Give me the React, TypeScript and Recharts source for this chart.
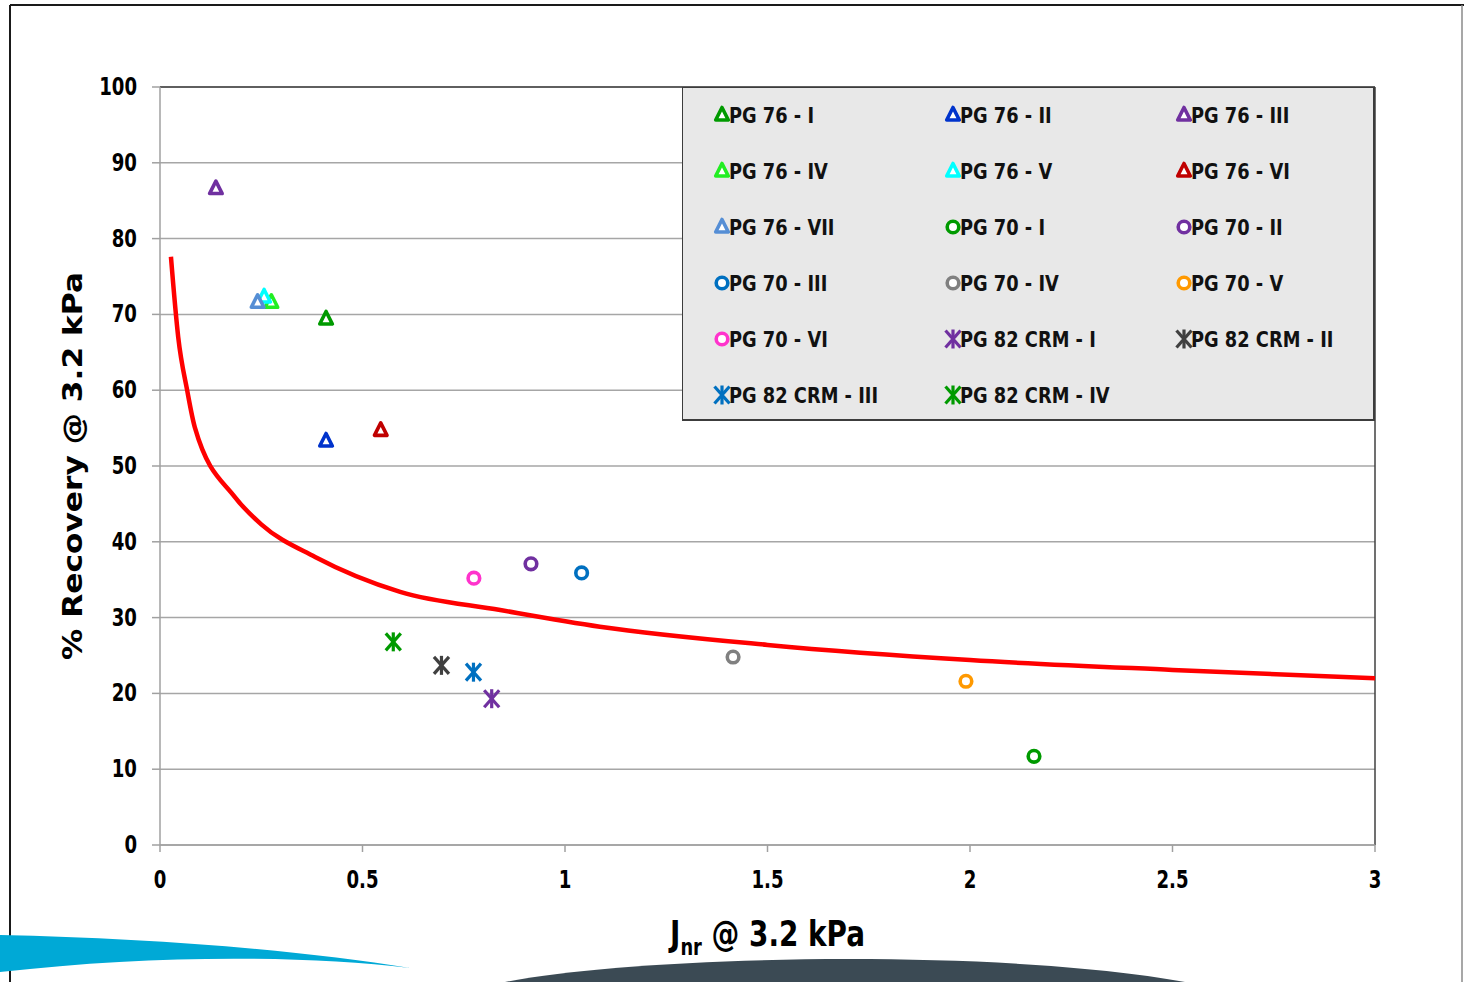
import React from 'react';
import {
  ComposedChart,
  Scatter,
  Line,
  XAxis,
  YAxis,
  CartesianGrid,
  Legend,
  ReferenceLine,
} from 'recharts';

// ---- data: Jnr @ 3.2 kPa (x) vs % Recovery @ 3.2 kPa (y) ----
const pg76I = [{ x: 0.41, y: 69.4 }];
const pg76II = [{ x: 0.41, y: 53.3 }];
const pg76III = [{ x: 0.138, y: 86.6 }];
const pg76IV = [{ x: 0.275, y: 71.6 }];
const pg76V = [{ x: 0.257, y: 72.3 }];
const pg76VI = [{ x: 0.545, y: 54.7 }];
const pg76VII = [{ x: 0.241, y: 71.6 }];
const pg70I = [{ x: 2.158, y: 11.7 }];
const pg70II = [{ x: 0.916, y: 37.1 }];
const pg70III = [{ x: 1.041, y: 35.9 }];
const pg70IV = [{ x: 1.415, y: 24.8 }];
const pg70V = [{ x: 1.99, y: 21.6 }];
const pg70VI = [{ x: 0.775, y: 35.2 }];
const pg82I = [{ x: 0.819, y: 19.3 }];
const pg82II = [{ x: 0.695, y: 23.7 }];
const pg82III = [{ x: 0.774, y: 22.8 }];
const pg82IV = [{ x: 0.576, y: 26.8 }];

// boundary curve (red)
const boundary = [
  { x: 0.027, y: 77.6 },
  { x: 0.045, y: 67.0 },
  { x: 0.067, y: 60.0 },
  { x: 0.086, y: 55.1 },
  { x: 0.185, y: 45.9 },
  { x: 0.25, y: 42.3 },
  { x: 0.383, y: 38.0 },
  { x: 0.593, y: 33.4 },
  { x: 0.84, y: 31.0 },
  { x: 1.086, y: 28.8 },
  { x: 1.5, y: 26.4 },
  { x: 2.0, y: 24.4 },
  { x: 2.5, y: 23.1 },
  { x: 3.0, y: 22.0 },
];

const xTicks = [0, 0.5, 1, 1.5, 2, 2.5, 3];
const yTicks = [0, 10, 20, 30, 40, 50, 60, 70, 80, 90, 100];

type Kind = 'tri' | 'ring' | 'star';

const series: { name: string; kind: Kind; color: string; data: { x: number; y: number }[] }[] = [
  { name: 'PG 76 - I', kind: 'tri', color: '#009a00', data: pg76I },
  { name: 'PG 76 - II', kind: 'tri', color: '#0033cc', data: pg76II },
  { name: 'PG 76 - III', kind: 'tri', color: '#7030a0', data: pg76III },
  { name: 'PG 76 - IV', kind: 'tri', color: '#22ee22', data: pg76IV },
  { name: 'PG 76 - V', kind: 'tri', color: '#00ffff', data: pg76V },
  { name: 'PG 76 - VI', kind: 'tri', color: '#c00000', data: pg76VI },
  { name: 'PG 76 - VII', kind: 'tri', color: '#558ed5', data: pg76VII },
  { name: 'PG 70 - I', kind: 'ring', color: '#009a00', data: pg70I },
  { name: 'PG 70 - II', kind: 'ring', color: '#7030a0', data: pg70II },
  { name: 'PG 70 - III', kind: 'ring', color: '#0070c0', data: pg70III },
  { name: 'PG 70 - IV', kind: 'ring', color: '#808080', data: pg70IV },
  { name: 'PG 70 - V', kind: 'ring', color: '#ff9900', data: pg70V },
  { name: 'PG 70 - VI', kind: 'ring', color: '#ff33cc', data: pg70VI },
  { name: 'PG 82 CRM - I', kind: 'star', color: '#7030a0', data: pg82I },
  { name: 'PG 82 CRM - II', kind: 'star', color: '#404040', data: pg82II },
  { name: 'PG 82 CRM - III', kind: 'star', color: '#0070c0', data: pg82III },
  { name: 'PG 82 CRM - IV', kind: 'star', color: '#009a00', data: pg82IV },
];

const NARROW = '"Liberation Sans Narrow", "DejaVu Sans Condensed", "Arial Narrow", sans-serif';
const WIDE = '"DejaVu Sans", Verdana, sans-serif';

function Marker({ kind, color, cx, cy }: { kind: Kind; color: string; cx: number; cy: number }) {
  if (kind === 'tri') {
    return (
      <path
        d={`M${cx},${cy - 7.5} L${cx + 6.3},${cy + 5} L${cx - 6.3},${cy + 5} Z`}
        fill="#ffffff"
        stroke={color}
        strokeWidth={3.6}
        strokeLinejoin="round"
      />
    );
  }
  if (kind === 'ring') {
    return <circle cx={cx} cy={cy} r={5.8} fill="#ffffff" stroke={color} strokeWidth={3.6} />;
  }
  return (
    <g stroke={color} strokeWidth={3.2} strokeLinecap="butt">
      <line x1={cx} y1={cy - 9.5} x2={cx} y2={cy + 9.5} />
      <line x1={cx - 7.5} y1={cy - 8.5} x2={cx + 7.5} y2={cy + 8.5} />
      <line x1={cx + 7.5} y1={cy - 8.5} x2={cx - 7.5} y2={cy + 8.5} />
    </g>
  );
}

function LegendBox() {
  return (
    <div
      style={{
        width: 693,
        height: 334,
        boxSizing: 'border-box',
        background: '#e8e8e8',
        border: '1.5px solid #3c3c3c',
        borderRightWidth: 2.5,
        borderBottomWidth: 2,
        padding: '12px 0 0 25px',
        display: 'grid',
        gridTemplateColumns: '231px 231px 231px',
        gridAutoRows: '56px',
        alignItems: 'start',
      }}
    >
      {series.map((s) => (
        <div key={s.name} style={{ display: 'flex', alignItems: 'center', height: 30 }}>
          <svg width={24} height={24} style={{ overflow: 'visible', flex: 'none' }}>
            <Marker kind={s.kind} color={s.color} cx={14} cy={12} />
          </svg>
          <span
            style={{
              fontFamily: NARROW,
              fontWeight: 700,
              fontSize: 22,
              color: '#111',
              marginLeft: -3,
              whiteSpace: 'nowrap',
              display: 'inline-block',
              transform: 'scaleX(0.9)',
              transformOrigin: 'left center',
            }}
          >
            {s.name}
          </span>
        </div>
      ))}
    </div>
  );
}

// tick label in a slightly narrowed bold face
function makeTick(anchor: 'middle' | 'end', dy: number) {
  return (props: any) => {
    const { x, y, payload } = props;
    return (
      <g transform={`translate(${x},${y}) scale(0.84,1)`}>
        <text
          x={0}
          y={0}
          dy={dy}
          textAnchor={anchor}
          fontFamily={NARROW}
          fontWeight={700}
          fontSize={24}
          fill="#000"
        >
          {String(payload.value)}
        </text>
      </g>
    );
  };
}

function YTitle(props: any) {
  const vb = props.viewBox || { x: 100, y: 87, width: 60, height: 758 };
  const cx = vb.x - 28;
  const cy = vb.y + vb.height / 2;
  return (
    <text
      x={cx}
      y={cy}
      transform={`rotate(-90 ${cx} ${cy})`}
      textAnchor="middle"
      dominantBaseline="central"
      fontFamily={WIDE}
      fontWeight={700}
      fontSize={27}
      fill="#000"
      textLength={388}
      lengthAdjust="spacingAndGlyphs"
    >
      % Recovery @ 3.2 kPa
    </text>
  );
}

function XTitle(props: any) {
  const vb = props.viewBox || { x: 160, y: 845, width: 1215, height: 40 };
  const cx = vb.x + vb.width / 2;
  const y = vb.y + 101;
  return (
    <g transform={`translate(${cx},${y}) scale(0.86,1)`}>
      <text x={0} y={0} textAnchor="middle" fontFamily={NARROW} fontWeight={700} fontSize={36} fill="#000">
        <tspan>J</tspan>
        <tspan fontSize={23} dy={9}>nr</tspan>
        <tspan dy={-9}> @ 3.2 kPa</tspan>
      </text>
    </g>
  );
}

function Backdrop() {
  return (
    <svg
      width={1464}
      height={982}
      style={{ position: 'absolute', left: 0, top: 0, pointerEvents: 'none' }}
    >
      <line x1={10} y1={5} x2={1464} y2={5} stroke="#1a1a1a" strokeWidth={2} />
      <line x1={10} y1={5} x2={10} y2={982} stroke="#1a1a1a" strokeWidth={2} />
      <line x1={1462} y1={5} x2={1462} y2={982} stroke="#8a8a8a" strokeWidth={1.5} />
      <path d="M0,935 C150,938 300,950 410,968 C300,955 150,955 0,972 Z" fill="#00a9d6" />
      <path d="M505,982 C640,955 1000,948 1185,982 Z" fill="#3b4a54" />
    </svg>
  );
}

export default function App() {
  return (
    <div style={{ position: 'absolute', left: 0, top: 0, width: 1464, height: 982, background: '#fff' }}>
      <Backdrop />
      <div style={{ position: 'absolute', left: 0, top: 0 }}>
        <ComposedChart width={1464} height={982} margin={{ top: 87, right: 89, bottom: 97, left: 100 }}>
          <CartesianGrid vertical={false} stroke="#a6a6a6" strokeWidth={1.5} />
          <XAxis
            type="number"
            dataKey="x"
            domain={[0, 3]}
            ticks={xTicks}
            allowDataOverflow
            height={40}
            stroke="#a0a0a0"
            strokeWidth={1.5}
            tickSize={7}
            tickMargin={19}
            tick={makeTick('middle', 17)}
            label={<XTitle />}
          />
          <YAxis
            type="number"
            dataKey="y"
            domain={[0, 100]}
            ticks={yTicks}
            allowDataOverflow
            width={60}
            stroke="#a0a0a0"
            strokeWidth={1.5}
            tickSize={8}
            tickMargin={15}
            tick={makeTick('end', 8)}
            label={<YTitle />}
          />
          <ReferenceLine y={100} stroke="#404040" strokeWidth={1.5} />
          <ReferenceLine x={3} stroke="#404040" strokeWidth={1.5} />
          <Line
            data={boundary}
            dataKey="y"
            type="monotone"
            stroke="#ff0000"
            strokeWidth={4.5}
            dot={false}
            activeDot={false}
            legendType="none"
            isAnimationActive={false}
          />
          {series.map((s) => (
            <Scatter
              key={s.name}
              name={s.name}
              data={s.data}
              dataKey="y"
              isAnimationActive={false}
              shape={(p: any) => <Marker kind={s.kind} color={s.color} cx={p.cx} cy={p.cy} />}
            />
          ))}
          <Legend
            layout="vertical"
            align="center"
            verticalAlign="middle"
            content={() => <LegendBox />}
            wrapperStyle={{ position: 'absolute', left: 682, top: 87, width: 693, height: 334, bottom: 'auto', right: 'auto' }}
          />
        </ComposedChart>
      </div>
    </div>
  );
}
